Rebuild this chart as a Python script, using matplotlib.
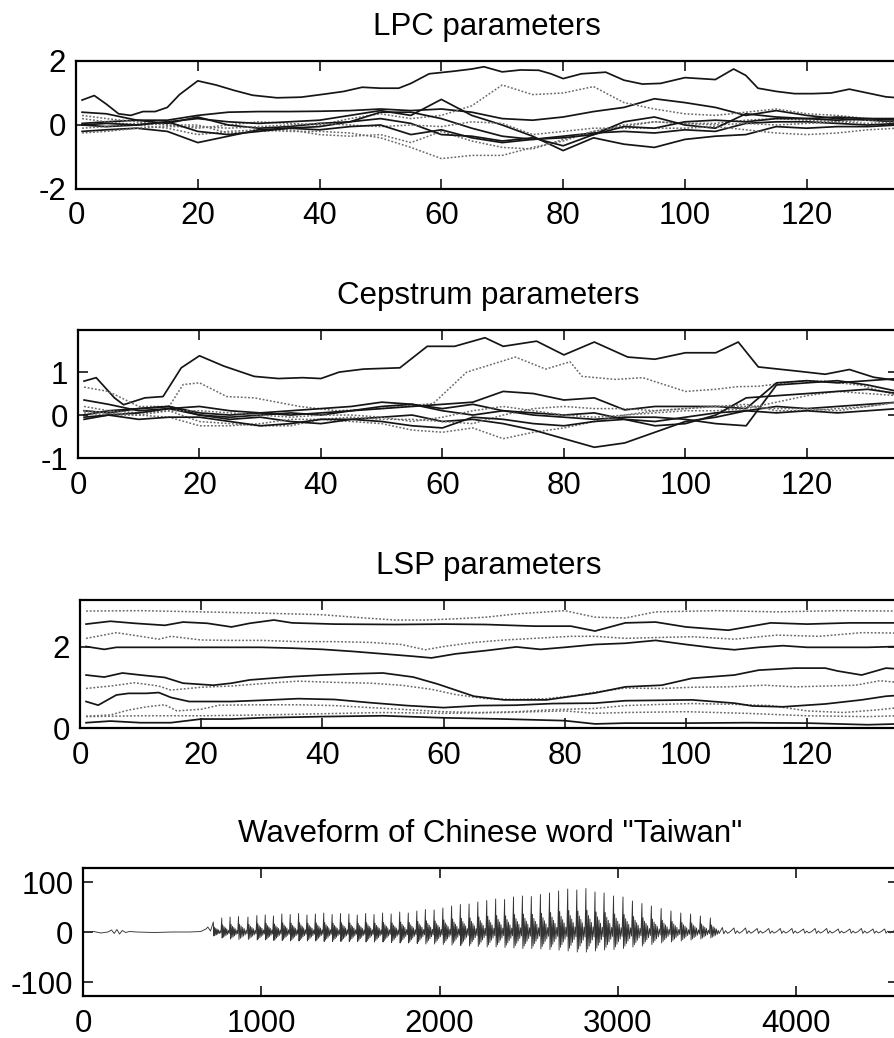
import numpy as np
import matplotlib
matplotlib.use("Agg")
import matplotlib.pyplot as plt

plt.rcParams['font.family'] = ['Liberation Sans', 'DejaVu Sans']
plt.rcParams['axes.unicode_minus'] = False

# ---------------- data ----------------
frames = [1, 5, 10, 15, 20, 25, 30, 35, 40, 45, 50, 55, 60, 65, 70, 75, 80, 85,
          90, 95, 100, 105, 110, 115, 120, 125, 130, 135]

# LPC parameters
lpc_top_x = [1, 3, 5, 7, 9, 11, 13, 15, 17, 20, 23, 26, 29, 33, 37, 41, 44, 47, 50, 53,
             55, 58, 62, 65, 67, 70, 73, 76, 78, 80, 83, 87, 90, 93, 96, 100, 105, 108, 110, 112,
             115, 118, 121, 124, 127, 130, 133, 135]
lpc_top_y = [0.78, 0.92, 0.65, 0.35, 0.3, 0.42, 0.42, 0.55, 0.95, 1.38, 1.25, 1.08, 0.93, 0.85, 0.87, 0.97, 1.05, 1.18, 1.15, 1.15,
             1.3, 1.6, 1.68, 1.75, 1.82, 1.66, 1.72, 1.71, 1.6, 1.45, 1.6, 1.65, 1.4, 1.28, 1.3, 1.48, 1.42, 1.75, 1.55, 1.15,
             1.05, 0.98, 0.98, 1.0, 1.12, 1.0, 0.88, 0.85]
lpc_2 = [0.05, 0.1, 0.15, 0.15, 0.3, 0.4, 0.42, 0.42, 0.43, 0.45, 0.5, 0.45, 0.5, 0.4, 0.2, 0.15, 0.25, 0.42, 0.55, 0.82, 0.7, 0.55, 0.3, 0.45, 0.3, 0.2, 0.15, 0.1]
lpc_3 = [0.3, 0.2, 0.1, 0.0, -0.1, 0.0, 0.1, 0.05, 0.0, 0.2, 0.35, 0.2, 0.3, 0.6, 1.25, 0.95, 1.0, 1.2, 0.7, 0.5, 0.35, 0.3, 0.4, 0.5, 0.35, 0.3, 0.2, 0.2]
lpc_4 = [0.0, -0.05, 0.0, 0.1, 0.2, 0.1, 0.05, 0.1, 0.15, 0.3, 0.45, 0.3, 0.8, 0.3, 0.0, -0.35, -0.8, -0.4, -0.6, -0.7, -0.45, -0.35, -0.3, -0.05, -0.1, -0.05, -0.05, 0.0]
lpc_5 = [0.2, 0.1, 0.0, -0.1, -0.3, -0.2, -0.15, -0.2, -0.2, -0.25, -0.4, -0.7, -1.05, -0.95, -0.95, -0.7, -0.5, -0.2, 0.0, 0.1, 0.05, 0.05, 0.15, 0.2, 0.15, 0.1, 0.15, 0.2]
lpc_6 = [-0.2, -0.15, -0.1, -0.2, -0.55, -0.35, -0.15, -0.1, -0.05, 0.1, 0.4, 0.4, 0.2, -0.1, -0.35, -0.45, -0.35, -0.25, -0.2, -0.25, -0.15, -0.2, 0.05, 0.1, 0.1, 0.05, 0.0, 0.05]
lpc_7 = [-0.1, -0.05, 0.05, 0.0, 0.0, -0.25, -0.2, -0.15, -0.3, -0.35, -0.3, -0.55, -0.2, -0.5, -0.7, -0.75, -0.45, -0.2, -0.05, 0.1, 0.05, 0.0, 0.05, 0.0, 0.05, 0.1, 0.05, 0.1]
lpc_8 = [0.4, 0.35, 0.15, 0.05, 0.25, 0.0, -0.1, -0.05, 0.05, 0.1, 0.2, 0.05, -0.3, -0.35, -0.5, -0.4, -0.65, -0.3, 0.1, 0.25, 0.0, -0.1, 0.35, 0.25, 0.2, 0.15, 0.2, 0.15]
lpc_9 = [-0.25, -0.2, -0.1, -0.05, -0.05, -0.1, -0.05, 0.0, 0.05, 0.0, -0.05, 0.0, -0.05, 0.1, 0.05, -0.3, -0.2, -0.1, -0.1, -0.1, -0.1, -0.05, -0.15, -0.25, -0.3, -0.25, -0.15, -0.1]
lpc_10 = [0.0, 0.05, 0.0, 0.1, -0.2, -0.3, -0.2, -0.1, -0.15, -0.05, 0.0, -0.3, -0.15, -0.4, -0.55, -0.45, -0.4, -0.3, -0.05, -0.1, 0.1, 0.15, 0.1, 0.2, 0.2, 0.25, 0.2, 0.2]

# Cepstrum parameters
cep_top_x = [1, 3, 6, 7.5, 11, 14, 17, 20, 24, 29, 33, 37, 40, 43, 47, 53, 57.5, 62, 67, 70,
             75.5, 80, 85, 90.5, 95, 100, 105, 108.7, 112, 118.6, 123, 127, 131, 135]
cep_top_y = [0.79, 0.87, 0.4, 0.24, 0.4, 0.43, 1.1, 1.38, 1.14, 0.9, 0.85, 0.87, 0.85, 1.0, 1.07, 1.1, 1.6, 1.6, 1.8, 1.6,
             1.72, 1.4, 1.7, 1.35, 1.3, 1.45, 1.45, 1.7, 1.12, 1.02, 0.95, 1.06, 0.88, 0.8]
cep_2_x = [1, 5, 10, 15, 17.3, 20, 24.5, 29, 36.5, 42.6, 50, 58.5, 64, 72, 77, 81, 83, 88.5, 93, 100,
           105, 108.5, 112, 119, 123, 129, 135]
cep_2_y = [0.65, 0.55, 0.2, 0.2, 0.71, 0.75, 0.43, 0.4, 0.2, 0.1, 0.15, 0.27, 1.0, 1.35, 1.07, 1.24, 0.9, 0.83, 0.87, 0.55,
           0.6, 0.66, 0.67, 0.79, 0.79, 0.69, 0.45]
cep_3 = [0.1, 0.05, 0.15, 0.2, 0.05, 0.0, 0.05, 0.0, 0.05, 0.1, 0.15, 0.2, 0.25, 0.3, 0.55, 0.5, 0.35, 0.4, 0.12, 0.2, 0.2, 0.2, 0.15, 0.75, 0.8, 0.75, 0.8, 0.85]
cep_4 = [0.0, 0.1, 0.15, 0.2, 0.0, -0.05, 0.0, 0.05, 0.0, 0.1, 0.2, 0.25, 0.15, 0.25, 0.1, 0.0, -0.05, -0.1, -0.05, -0.05, -0.1, -0.2, -0.25, 0.7, 0.75, 0.8, 0.7, 0.55]
cep_5 = [0.2, 0.1, 0.05, 0.1, -0.15, -0.2, -0.25, -0.25, -0.1, -0.15, -0.2, -0.35, -0.4, -0.3, -0.55, -0.4, -0.3, -0.15, 0.0, 0.05, 0.1, 0.1, 0.15, 0.3, 0.45, 0.55, 0.5, 0.45]
cep_6 = [-0.05, 0.0, 0.05, 0.15, 0.0, -0.1, -0.05, -0.15, -0.2, -0.1, -0.05, 0.0, -0.15, -0.1, -0.2, -0.35, -0.55, -0.75, -0.65, -0.4, -0.15, -0.05, 0.1, 0.2, 0.15, 0.2, 0.25, 0.3]
cep_7 = [0.1, 0.05, 0.0, -0.05, -0.25, -0.25, -0.2, -0.1, -0.1, -0.05, -0.1, -0.1, -0.15, -0.2, 0.0, 0.15, 0.2, 0.15, 0.15, 0.1, 0.15, 0.2, 0.25, 0.1, 0.1, 0.15, 0.2, 0.3]
cep_8 = [0.35, 0.25, 0.1, 0.15, 0.2, 0.1, 0.05, 0.1, 0.15, 0.2, 0.3, 0.25, 0.1, 0.0, 0.1, 0.05, 0.0, 0.05, -0.1, -0.25, -0.2, 0.0, 0.4, 0.45, 0.5, 0.55, 0.6, 0.5]
cep_9 = [0.05, 0.0, 0.0, 0.1, 0.1, 0.05, 0.0, -0.05, 0.0, 0.0, -0.05, -0.15, -0.05, 0.1, 0.2, 0.1, 0.0, -0.05, 0.0, 0.1, 0.15, 0.2, 0.2, 0.15, 0.15, 0.1, 0.2, 0.3]
cep_10 = [-0.1, 0.0, -0.1, -0.05, -0.05, -0.15, -0.25, -0.2, -0.1, -0.1, -0.15, -0.25, -0.3, -0.05, -0.1, -0.2, -0.25, -0.15, -0.1, -0.15, -0.05, 0.05, 0.1, 0.05, 0.1, 0.05, 0.1, 0.15]

# LSP parameters (each line with its own frame positions)
lsp_1_x = [1, 5, 10, 15, 20, 25, 30, 40, 50, 60, 70, 80, 85, 90, 100, 110, 120, 130, 135]
lsp_1_y = [0.13, 0.17, 0.13, 0.13, 0.22, 0.22, 0.25, 0.28, 0.3, 0.25, 0.22, 0.18, 0.1, 0.12, 0.12, 0.13, 0.12, 0.08, 0.1]
lsp_2_x = [1, 10, 20, 30, 40, 50, 60, 70, 80, 85, 90, 100, 110, 115, 120, 130, 135]
lsp_2_y = [0.28, 0.3, 0.3, 0.32, 0.35, 0.38, 0.36, 0.38, 0.42, 0.36, 0.38, 0.4, 0.36, 0.33, 0.3, 0.28, 0.3]
lsp_3_x = [1, 5, 8, 11, 14, 16, 20, 23, 30, 36, 42, 48, 54, 60, 66, 72, 78, 85, 90, 96,
           101, 108, 114, 120, 126, 132, 135]
lsp_3_y = [0.29, 0.32, 0.44, 0.52, 0.57, 0.42, 0.46, 0.56, 0.57, 0.57, 0.55, 0.5, 0.45, 0.4, 0.38, 0.4, 0.45, 0.48, 0.55, 0.58,
           0.6, 0.58, 0.55, 0.42, 0.38, 0.45, 0.5]
lsp_4_x = [1, 3, 6, 8, 11, 13, 15, 18, 25, 30, 36, 42, 48, 54, 60, 66, 72, 78, 85, 90,
           96, 101, 108, 111, 116, 123, 129, 133, 135]
lsp_4_y = [0.65, 0.56, 0.81, 0.85, 0.85, 0.87, 0.75, 0.65, 0.65, 0.68, 0.72, 0.7, 0.62, 0.55, 0.5, 0.55, 0.56, 0.6, 0.61, 0.67,
           0.68, 0.69, 0.61, 0.54, 0.52, 0.59, 0.69, 0.78, 0.8]
lsp_5_x = [1, 5, 9, 13, 15, 20, 25, 31, 36, 42, 48, 53, 58, 62, 67, 72, 77, 82, 85, 90,
           96, 101, 107, 113, 118, 123, 128, 132, 135]
lsp_5_y = [0.97, 1.03, 1.11, 1.03, 0.93, 1.0, 1.03, 1.1, 1.15, 1.12, 1.1, 1.05, 0.95, 0.82, 0.72, 0.7, 0.72, 0.8, 0.88, 0.98,
           0.97, 1.0, 1.01, 1.05, 1.01, 1.03, 1.05, 1.16, 1.12]
lsp_6_x = [1, 4, 7, 10, 14, 17, 22, 25, 28, 35, 40, 45, 50, 55, 59, 65, 70, 77, 85, 90,
           96, 101, 108, 112, 118, 123, 125, 129, 133, 135]
lsp_6_y = [1.3, 1.25, 1.35, 1.3, 1.24, 1.1, 1.05, 1.1, 1.18, 1.26, 1.3, 1.33, 1.35, 1.25, 1.08, 0.78, 0.69, 0.69, 0.86, 1.01,
           1.05, 1.22, 1.3, 1.42, 1.47, 1.47, 1.4, 1.3, 1.47, 1.45]
lsp_7_x = [1, 4, 6, 10, 15, 20, 25, 30, 35, 40, 45, 50, 55, 58, 62, 67, 72, 76, 80, 85,
           90, 95, 100, 105, 108, 112, 116, 120, 125, 130, 135]
lsp_7_y = [2.0, 1.93, 1.98, 1.98, 1.98, 1.98, 1.98, 1.98, 1.96, 1.93, 1.88, 1.82, 1.76, 1.72, 1.82, 1.9, 1.99, 1.93, 1.98, 2.05,
           2.08, 2.15, 2.05, 1.96, 1.92, 1.98, 2.02, 1.98, 1.98, 1.98, 2.0]
lsp_8_x = [1, 6, 10, 13, 15, 20, 25, 30, 36, 42, 48, 53, 57, 60, 65, 70, 75, 81, 85, 90,
           95, 101, 108, 115, 122, 129, 135]
lsp_8_y = [2.2, 2.34, 2.25, 2.18, 2.25, 2.16, 2.15, 2.15, 2.12, 2.12, 2.1, 2.05, 1.92, 2.0, 2.1, 2.16, 2.2, 2.25, 2.25, 2.2,
           2.22, 2.24, 2.18, 2.28, 2.25, 2.34, 2.33]
lsp_9_x = [1, 5, 9, 14, 17, 21, 25, 28, 32, 35, 42, 52, 60, 67, 75, 81, 85, 90, 95, 100,
           107, 114, 120, 127, 135]
lsp_9_y = [2.55, 2.62, 2.57, 2.52, 2.6, 2.57, 2.48, 2.57, 2.65, 2.58, 2.55, 2.54, 2.55, 2.54, 2.5, 2.5, 2.38, 2.58, 2.6, 2.48,
           2.4, 2.58, 2.55, 2.58, 2.58]
lsp_10_x = [1, 10, 20, 30, 40, 47, 52, 57, 62, 67, 72, 80, 85, 90, 95, 105, 115, 125, 135]
lsp_10_y = [2.87, 2.88, 2.85, 2.82, 2.78, 2.7, 2.65, 2.65, 2.68, 2.72, 2.8, 2.88, 2.72, 2.7, 2.85, 2.88, 2.85, 2.88, 2.87]

# Waveform: silence/onset, pitch pulses (sample index, peak, trough), and the weak tail
pre_x = [0, 60, 100, 140, 160, 175, 190, 205, 220, 240, 260, 300, 400, 500, 600, 660, 690, 700, 715]
pre_y = [0, 1, -2, 0, 4, -3, 5, -4, 3, -1, 1, 0, -1, 0, 0, 1, 6, 10, 2]
pulse_t = [731, 778, 825, 872, 925, 975, 1022, 1068, 1115, 1162,
           1209, 1256, 1303, 1350, 1397, 1444, 1491, 1538, 1585, 1632,
           1680, 1728, 1776, 1824, 1872, 1920, 1969, 2018, 2067, 2116,
           2165, 2214, 2264, 2314, 2364, 2414, 2464, 2514, 2565, 2616,
           2667, 2718, 2769, 2820, 2871, 2922, 2975, 3028, 3081, 3134,
           3187, 3242, 3297, 3352, 3407, 3462, 3518]
pulse_hi = [20, 28, 30, 31, 30, 33, 34, 32, 36, 35,
            37, 34, 36, 38, 35, 37, 36, 34, 37, 35,
            38, 36, 40, 38, 42, 45, 44, 48, 52, 55,
            56, 60, 63, 66, 65, 70, 72, 71, 75, 78,
            82, 86, 84, 87, 80, 78, 72, 70, 62, 57,
            52, 47, 42, 38, 36, 32, 28]
pulse_lo = [-8, -12, -14, -15, -15, -16, -16, -17, -17, -18,
            -18, -18, -18, -19, -19, -19, -19, -19, -20, -20,
            -20, -21, -22, -22, -23, -24, -24, -25, -26, -27,
            -28, -29, -30, -30, -31, -32, -33, -33, -34, -35,
            -36, -38, -40, -40, -38, -36, -35, -33, -30, -28,
            -25, -22, -20, -18, -16, -14, -12]
tail_t = [3585, 3650, 3715, 3780, 3845, 3910, 3975, 4040, 4105, 4170, 4235, 4300, 4365, 4430, 4495, 4560]
tail_a = [9, 8, 8, 7, 7, 7, 7, 6, 7, 7, 6, 6, 7, 6, 6, 6]

# ---------------- figure ----------------
FS = 22.5
fig = plt.figure(figsize=(8.95, 10.38), dpi=100)
W, H = 895.0, 1038.0


def make_axes(left, top, bottom, right=898):
    return fig.add_axes([left / W, 1 - bottom / H, (right - left) / W, (bottom - top) / H])


def style(ax, title, yticks, ylim, xticks, xlim):
    ax.set_xlim(*xlim)
    ax.set_ylim(*ylim)
    ax.set_xticks(xticks)
    ax.set_yticks(yticks)
    ax.tick_params(direction='in', length=7, width=1.1, top=True, right=True,
                   labelsize=FS, colors='black')
    ax.tick_params(axis='x', pad=9)
    ax.tick_params(axis='y', pad=7)
    for s in ax.spines.values():
        s.set_linewidth(1.6)
        s.set_color('black')
    ax.set_title(title, fontsize=FS, pad=19)


solid = dict(color='#151515', lw=1.25, ls='-')
dotted = dict(color='#6a6a6a', lw=1.1, ls=(0, (1.2, 1.2)))
frame_ticks = [0, 20, 40, 60, 80, 100, 120]

# 1. LPC
ax1 = make_axes(76, 61, 189)
ax1.plot(lpc_top_x, lpc_top_y, **solid)
for i, s in enumerate([lpc_2, lpc_3, lpc_4, lpc_5, lpc_6, lpc_7, lpc_8, lpc_9, lpc_10]):
    ax1.plot(frames, s, **(dotted if i % 2 else solid))
style(ax1, 'LPC parameters', [-2, 0, 2], (-2, 2), frame_ticks, (0, 135))

# 2. Cepstrum
ax2 = make_axes(78, 330, 458)
ax2.plot(cep_top_x, cep_top_y, **solid)
ax2.plot(cep_2_x, cep_2_y, **dotted)
for i, s in enumerate([cep_3, cep_4, cep_5, cep_6, cep_7, cep_8, cep_9, cep_10]):
    ax2.plot(frames, s, **(dotted if i % 2 == 0 and i > 0 else solid))
style(ax2, 'Cepstrum parameters', [-1, 0, 1], (-1, 1.98), frame_ticks, (0, 135))

# 3. LSP
ax3 = make_axes(80, 600, 728)
lsp = [(lsp_1_x, lsp_1_y, solid), (lsp_2_x, lsp_2_y, dotted), (lsp_3_x, lsp_3_y, dotted),
       (lsp_4_x, lsp_4_y, solid), (lsp_5_x, lsp_5_y, dotted), (lsp_6_x, lsp_6_y, solid),
       (lsp_7_x, lsp_7_y, solid), (lsp_8_x, lsp_8_y, dotted), (lsp_9_x, lsp_9_y, solid),
       (lsp_10_x, lsp_10_y, dotted)]
for x, y, st in lsp:
    ax3.plot(x, y, **st)
style(ax3, 'LSP parameters', [0, 2], (0, np.pi), frame_ticks, (0, 135))

# 4. Waveform
ax4 = make_axes(83, 868, 996)
# in-period drawing template (style only): fraction of period and relative amplitude
tmpl_f = [0.0, 0.05, 0.12, 0.2, 0.28, 0.36, 0.44, 0.52, 0.6, 0.7, 0.8, 0.9]
tmpl_a = [1.0, -1.0, 0.5, -0.85, 0.38, -0.7, 0.3, -0.55, 0.22, -0.4, 0.12, -0.25]
wx = list(pre_x)
wy = list(pre_y)
for k, t in enumerate(pulse_t):
    T = (pulse_t[k + 1] - t) if k + 1 < len(pulse_t) else 55
    for f, a in zip(tmpl_f, tmpl_a):
        wx.append(t + f * T)
        wy.append(a * (pulse_hi[k] if a > 0 else -pulse_lo[k]))
tail_f = [0, 8, 18, 30, 45]
tail_r = [1.0, -0.4, 0.3, -0.3, 0.1]
for t, a in zip(tail_t, tail_a):
    for f, r in zip(tail_f, tail_r):
        wx.append(t + f)
        wy.append(r * a)
ax4.plot(wx, wy, color='#333333', lw=0.65)
style(ax4, 'Waveform of Chinese word "Taiwan"', [-100, 0, 100], (-128, 128),
      [0, 1000, 2000, 3000, 4000], (0, 4570))

fig.savefig('out.png', dpi=100)
